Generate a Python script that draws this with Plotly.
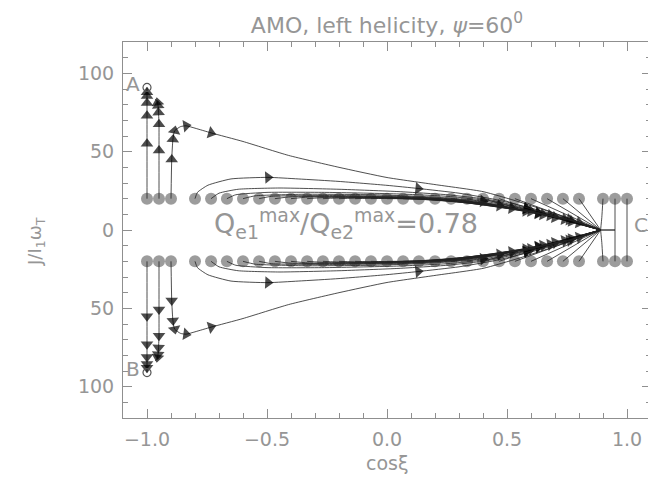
import plotly.graph_objects as go

# ---------------- data ----------------
# starting grid (grey dots), J = +/-20
dot_cos = [-1.0, -0.95, -0.9, -0.8, -0.733, -0.667, -0.6, -0.533, -0.467, -0.4,
           -0.333, -0.267, -0.2, -0.133, -0.067, 0.0, 0.067, 0.133, 0.2, 0.267,
           0.333, 0.4, 0.467, 0.533, 0.6, 0.667, 0.733, 0.8, 0.9, 0.95, 1.0]
dot_J = 20

# attractors
A_point = (-1.0, 91)
C_point = (0.89, 0)

# trajectories (upper half; lower half is the mirror image), (cosxi, J)
path_A = [(-1.0, 20), (-1.0, 55), (-1.0, 73), (-1.0, 81), (-1.0, 85.5), (-1.0, 88), (-1.0, 91)]
arrows_A = [1, 2, 3, 4, 5]
path_2 = [(-0.95, 20), (-0.95, 50.8), (-0.95, 67.5), (-0.952, 75), (-0.954, 79.4), (-0.956, 81.3), (-0.965, 83.5)]
arrows_2 = [1, 2, 3, 4, 5]
path_3 = [(-0.9, 20), (-0.897, 45), (-0.892, 57.8), (-0.885, 63.3), (-0.86, 66), (-0.837, 66.5),
          (-0.8, 65), (-0.733, 62), (-0.6, 56.5), (-0.41, 47.6), (-0.2, 40), (0.0, 33.5),
          (0.2, 29), (0.4, 24.5), (0.55, 18), (0.7, 10.5), (0.89, 0)]
arrows_3 = [1, 2, 3, 5, 7]
path_4 = [(-0.8, 20), (-0.79, 24), (-0.746, 28.6), (-0.65, 32.6), (-0.496, 33.6), (-0.37, 32.6),
          (-0.2, 31), (0.0, 28.5), (0.13, 26.5), (0.3, 23.5), (0.45, 19.5), (0.6, 14), (0.75, 7.5), (0.89, 0)]
arrows_4 = [4, 8]
path_5 = [(-0.733, 20), (-0.70, 23.5), (-0.62, 26), (-0.45, 26.8), (-0.2, 26), (0.05, 24.5),
          (0.25, 22.5), (0.42, 19.5), (0.58, 14), (0.72, 8), (0.89, 0)]
arrows_5 = [8]
path_6 = [(-0.667, 20), (-0.63, 22.5), (-0.5, 24), (-0.25, 24), (0.05, 23), (0.25, 21.5),
          (0.42, 18.8), (0.58, 13.5), (0.72, 7.8), (0.89, 0)]
arrows_6 = [7]
path_7 = [(-0.6, 20), (-0.55, 21.8), (-0.35, 22.8), (-0.05, 22.5), (0.2, 21), (0.4, 18.5),
          (0.56, 13.8), (0.72, 7.6), (0.89, 0)]
arrows_7 = [5]
path_8 = [(-0.533, 20), (-0.48, 21.5), (-0.25, 22), (0.05, 21.5), (0.3, 19.5), (0.45, 16.5),
          (0.6, 12), (0.75, 6.5), (0.89, 0)]
arrows_8 = [6]
path_9 = [(-0.467, 20), (-0.4, 21.2), (-0.15, 21.5), (0.1, 21), (0.3, 19.2), (0.47, 15.5),
          (0.62, 11), (0.76, 5.8), (0.89, 0)]
arrows_9 = [5]
path_10 = [(-0.4, 20), (-0.33, 21), (-0.1, 21.2), (0.15, 20.5), (0.33, 18.5), (0.5, 14.5),
           (0.65, 9.8), (0.89, 0)]
arrows_10 = [6]
path_11 = [(-0.333, 20), (-0.25, 20.8), (0.0, 20.8), (0.2, 19.8), (0.38, 17.5), (0.52, 14),
           (0.67, 9), (0.89, 0)]
arrows_11 = [5]
path_12 = [(-0.267, 20), (-0.18, 20.6), (0.05, 20.5), (0.25, 19.2), (0.42, 16.5), (0.55, 13),
           (0.7, 8), (0.89, 0)]
arrows_12 = [6]
path_13 = [(-0.2, 20), (-0.1, 20.5), (0.1, 20.2), (0.3, 18.5), (0.45, 15.8), (0.58, 12.2),
           (0.72, 7.3), (0.89, 0)]
arrows_13 = [5]
path_14 = [(-0.133, 20), (-0.05, 20.3), (0.15, 19.8), (0.33, 17.8), (0.48, 15), (0.6, 11.5),
           (0.74, 6.8), (0.89, 0)]
arrows_14 = [6]
path_15 = [(-0.067, 20), (0.02, 20.2), (0.2, 19.3), (0.37, 17), (0.5, 14.3), (0.63, 10.8),
           (0.76, 6.2), (0.89, 0)]
arrows_15 = [5]
path_16 = [(0.0, 20), (0.1, 19.9), (0.25, 18.6), (0.4, 16.3), (0.53, 13.5), (0.65, 10),
           (0.77, 5.6), (0.89, 0)]
arrows_16 = [6]
path_17 = [(0.067, 20), (0.15, 19.5), (0.3, 17.8), (0.44, 15.3), (0.56, 12.6), (0.68, 9.2),
           (0.78, 5.2), (0.89, 0)]
arrows_17 = [5]
path_18 = [(0.133, 20), (0.22, 19), (0.35, 17), (0.48, 14.3), (0.6, 11.5), (0.7, 8.4),
           (0.8, 4.6), (0.89, 0)]
arrows_18 = [6]
path_19 = [(0.2, 20), (0.28, 18.5), (0.4, 16), (0.52, 13.3), (0.63, 10.5), (0.73, 7.5),
           (0.81, 4.2), (0.89, 0)]
arrows_19 = [4]
path_20 = [(0.267, 20), (0.35, 17.8), (0.46, 15), (0.57, 12), (0.67, 9.3), (0.76, 6.5), (0.89, 0)]
arrows_20 = [5]
path_21 = [(0.333, 20), (0.42, 17), (0.52, 14), (0.62, 11), (0.71, 8.2), (0.8, 5), (0.89, 0)]
arrows_21 = []
path_22 = [(0.4, 20), (0.48, 16.6), (0.57, 13.3), (0.66, 10), (0.75, 6.8), (0.89, 0)]
arrows_22 = []
path_23 = [(0.467, 20), (0.54, 16.3), (0.62, 12.6), (0.7, 9.2), (0.78, 5.8), (0.89, 0)]
arrows_23 = []
path_24 = [(0.533, 20), (0.89, 0)]
path_25 = [(0.6, 20), (0.89, 0)]
path_26 = [(0.667, 20), (0.89, 0)]
path_27 = [(0.733, 20), (0.89, 0)]
path_28 = [(0.8, 20), (0.89, 0)]
path_29 = [(0.9, 20), (0.895, 8), (0.89, 0)]
path_30 = [(0.95, 20), (0.95, 0)]
path_31 = [(1.0, 20), (1.0, 0)]
path_C = [(0.89, 0), (0.95, 0)]

top_paths = [
    (path_A, arrows_A), (path_2, arrows_2), (path_3, arrows_3), (path_4, arrows_4),
    (path_5, arrows_5), (path_6, arrows_6), (path_7, arrows_7), (path_8, arrows_8),
    (path_9, arrows_9), (path_10, arrows_10), (path_11, arrows_11), (path_12, arrows_12),
    (path_13, arrows_13), (path_14, arrows_14), (path_15, arrows_15), (path_16, arrows_16),
    (path_17, arrows_17), (path_18, arrows_18), (path_19, arrows_19), (path_20, arrows_20),
    (path_21, arrows_21), (path_22, arrows_22), (path_23, arrows_23),
    (path_24, []), (path_25, []), (path_26, []), (path_27, []), (path_28, []),
    (path_29, []), (path_30, []), (path_31, []), (path_C, []),
]

x_tick_vals = [-1.0, -0.5, 0.0, 0.5, 1.0]
x_tick_text = ["\u22121.0", "\u22120.5", "0.0", "0.5", "1.0"]
y_tick_vals = [-100, -50, 0, 50, 100]
y_tick_text = ["100", "50", "0", "50", "100"]

GREY = "#8f8f8f"
TXT = "#969696"
FONT = "DejaVu Sans ExtraLight, DejaVu Sans"

fig = go.Figure()

# grey starting dots
for s in (1, -1):
    fig.add_trace(go.Scatter(
        x=dot_cos, y=[s * dot_J] * len(dot_cos), mode="markers",
        marker=dict(symbol="circle", size=12, color="#9c9c9c", line=dict(width=0)),
        hoverinfo="skip", showlegend=False))

# trajectories with direction arrows
for s in (1, -1):
    for pts, arr in top_paths:
        xs = [p[0] for p in pts]
        ys = [s * p[1] for p in pts]
        sizes = [11 if i in arr else 0 for i in range(len(pts))]
        fig.add_trace(go.Scatter(
            x=xs, y=ys, mode="lines+markers",
            line=dict(color="#222222", width=0.8, shape="spline", smoothing=0.5),
            marker=dict(symbol="triangle-up", size=sizes, color="black",
                        angleref="previous", line=dict(width=0)),
            hoverinfo="skip", showlegend=False))

# attractor circles A and B
fig.add_trace(go.Scatter(
    x=[A_point[0], A_point[0]], y=[A_point[1], -A_point[1]], mode="markers",
    marker=dict(symbol="circle-open", size=8, color="#555555", line=dict(width=1.2)),
    hoverinfo="skip", showlegend=False))

ann = [
    dict(x=-1.06, y=93, text="A", showarrow=False, font=dict(size=20, color=TXT, family=FONT)),
    dict(x=-1.06, y=-89, text="B", showarrow=False, font=dict(size=20, color=TXT, family=FONT)),
    dict(x=1.06, y=3, text="C", showarrow=False, font=dict(size=20, color=TXT, family=FONT)),
    dict(x=-0.17, y=4, text="Q<sub>e1</sub><sup>max</sup>/Q<sub>e2</sub><sup>max</sup>=0.78",
         showarrow=False, font=dict(size=27, color=TXT, family=FONT)),
    dict(xref="paper", yref="paper", x=-0.19, y=0.47, text="J/I<sub>1</sub>\u03c9<sub>T</sub>",
         textangle=-90, showarrow=False, font=dict(size=18, color=TXT, family=FONT)),
    dict(xref="paper", yref="paper", x=0.5, y=-0.12, text="cos\u03be", yanchor="middle",
         showarrow=False, font=dict(size=19, color=TXT, family=FONT)),
]

fig.update_layout(
    width=656, height=482,
    margin=dict(l=115, r=13, t=34, b=72),
    plot_bgcolor="white", paper_bgcolor="white",
    title=dict(text="AMO, left helicity, <i>\u03c8</i>=60<sup>0</sup>",
               x=0.5, xref="paper", xanchor="center",
               y=1 - 17 / 482, yref="container", yanchor="middle", automargin=False,
               font=dict(size=22, color=TXT, family=FONT)),
    annotations=ann,
    xaxis=dict(range=[-1.1, 1.1], tickvals=x_tick_vals, ticktext=x_tick_text,
               ticks="inside", ticklen=9, tickcolor=GREY, tickwidth=1,
               showline=True, linecolor=GREY, linewidth=1, mirror="ticks",
               showgrid=False, zeroline=False, ticklabelstandoff=4, automargin=False,
               tickfont=dict(size=19, color=TXT, family=FONT),
               minor=dict(dtick=0.1, tick0=0, ticks="inside", ticklen=5, tickcolor=GREY, showgrid=False)),
    yaxis=dict(range=[-120, 120], tickvals=y_tick_vals, ticktext=y_tick_text,
               ticks="inside", ticklen=9, tickcolor=GREY, tickwidth=1,
               showline=True, linecolor=GREY, linewidth=1, mirror="ticks",
               showgrid=False, zeroline=False, ticklabelstandoff=4, automargin=False,
               tickfont=dict(size=19, color=TXT, family=FONT),
               minor=dict(dtick=10, tick0=0, ticks="inside", ticklen=5, tickcolor=GREY, showgrid=False)),
)

fig.write_html("out.html")
